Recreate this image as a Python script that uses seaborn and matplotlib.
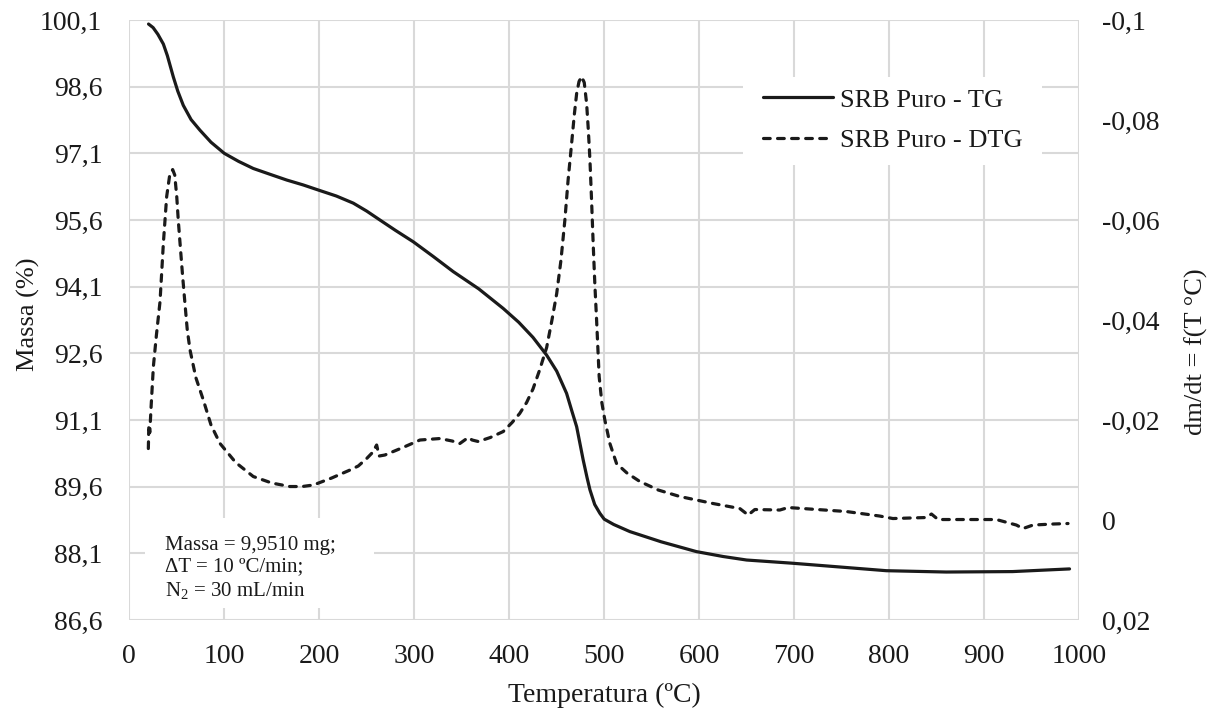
import numpy as np
import pandas as pd
import matplotlib
matplotlib.use("Agg")
import matplotlib.pyplot as plt
import seaborn as sns
from matplotlib.ticker import FixedLocator, FixedFormatter
from matplotlib.lines import Line2D
from matplotlib.patches import Rectangle

# ---- data ----
tg_temp = [20.2, 25, 30, 35.8, 40, 46.3, 51, 56.8, 65, 74.4, 86, 100, 115, 130.5, 148, 165.7,
           183, 199.7, 218, 235.8, 250, 263.9, 280, 299, 320, 341, 368, 393.7, 410, 425, 439.4,
           450, 460.4, 466, 471, 477.9, 482, 485, 490, 495.5, 500, 510, 527, 560, 597, 625,
           650, 697, 750, 797, 860, 930, 990]
tg_mass = [100.01, 99.93, 99.78, 99.56, 99.30, 98.82, 98.50, 98.18, 97.86, 97.62, 97.35, 97.10,
           96.92, 96.76, 96.63, 96.50, 96.39, 96.27, 96.14, 95.98, 95.80, 95.60, 95.37, 95.11,
           94.78, 94.44, 94.05, 93.61, 93.30, 92.96, 92.56, 92.20, 91.70, 91.30, 90.95, 90.20,
           89.80, 89.53, 89.20, 89.00, 88.87, 88.75, 88.59, 88.36, 88.14, 88.03, 87.95, 87.88,
           87.79, 87.71, 87.68, 87.69, 87.75]

dtg_temp = [20, 20.5, 21.5, 23, 25.3, 28.5, 32.3, 35.8, 39.3, 42.5, 45.6, 47.8, 49.9, 51.5, 53.4,
            56, 58.6, 61, 63.9, 70, 77.9, 86, 95.5, 112, 130.5, 150, 169, 182, 193.7, 213, 232.3,
            241, 249.9, 256, 260.4, 263, 269, 288, 306, 327, 340, 348, 356.8, 361, 367.4, 380,
            393.7, 403, 411, 418.3, 425, 432, 439.4, 445, 450, 454.5, 458.6, 462, 465.7, 468.5,
            471, 473.5, 476.2, 479, 481.5, 483.3, 485, 486.7, 488.4, 490.2, 492, 494.7, 497.5,
            500.7, 506, 513, 524, 537.6, 557, 579.7, 614.7, 642.8, 651.6, 658.6, 685, 693.7,
            755, 790, 804, 839, 844.6, 851.6, 913, 934, 941, 951.6, 972.6, 988.4]
dtg_vals = [-0.0143, -0.0190, -0.0175, -0.0230, -0.0307, -0.0370, -0.0437, -0.0553, -0.0647,
            -0.0690, -0.0701, -0.0690, -0.0647, -0.0600, -0.0553, -0.0490, -0.0432, -0.0380,
            -0.0340, -0.0285, -0.0240, -0.0190, -0.0153, -0.0115, -0.0087, -0.0074, -0.0067,
            -0.0067, -0.0070, -0.0084, -0.0100, -0.0108, -0.0123, -0.0135, -0.0150, -0.0128,
            -0.0130, -0.0145, -0.0160, -0.0163, -0.0158, -0.0153, -0.0165, -0.0160, -0.0157,
            -0.0165, -0.0177, -0.0195, -0.0213, -0.0235, -0.0262, -0.0300, -0.0345, -0.0400,
            -0.0453, -0.0520, -0.0600, -0.0680, -0.0753, -0.0810, -0.0853, -0.0877, -0.0887,
            -0.0875, -0.0833, -0.0780, -0.0720, -0.0640, -0.0553, -0.0470, -0.0400, -0.0287,
            -0.0235, -0.0200, -0.0153, -0.0113, -0.0094, -0.0077, -0.0060, -0.0047, -0.0033,
            -0.0023, -0.0010, -0.0021, -0.0020, -0.0025, -0.0017, -0.0008, -0.0003, -0.0005,
            -0.0012, -0.0001, -0.0001, 0.0010, 0.0017, 0.0010, 0.0008, 0.0007]

left_ticks = [86.6, 88.1, 89.6, 91.1, 92.6, 94.1, 95.6, 97.1, 98.6, 100.1]
left_labels = ["86,6", "88,1", "89,6", "91,1", "92,6", "94,1", "95,6", "97,1", "98,6", "100,1"]
right_ticks = [0.02, 0.0, -0.02, -0.04, -0.06, -0.08, -0.1]
right_labels = ["0,02", "0", "-0,02", "-0,04", "-0,06", "-0,08", "-0,1"]
x_ticks = [0, 100, 200, 300, 400, 500, 600, 700, 800, 900, 1000]

tg_df = pd.DataFrame({"T": tg_temp, "m": tg_mass})
dtg_df = pd.DataFrame({"T": dtg_temp, "d": dtg_vals})

sns.set_style("white")
plt.rcParams["font.family"] = ["Liberation Serif", "DejaVu Serif"]
plt.rcParams["mathtext.fontset"] = "custom"
plt.rcParams["mathtext.rm"] = "Liberation Serif"
plt.rcParams["mathtext.default"] = "regular"

W, H = 1218, 713
fig = plt.figure(figsize=(W / 100, H / 100), dpi=100)
ax = fig.add_axes([0.1062, 0.1304, 0.7797, 0.8415])
ax2 = ax.twinx()

ink = "#1a1a1a"
grid_c = "#d9d9d9"
lw = 2.3
dash = (2.1, 2.3)
sns.lineplot(data=tg_df, x="T", y="m", ax=ax, color=ink, linewidth=lw,
             estimator=None, sort=False, legend=False)
sns.lineplot(data=dtg_df, x="T", y="d", ax=ax2, color=ink, linewidth=lw,
             estimator=None, sort=False, legend=False)
dl = ax2.lines[0]
dl.set_dashes(dash)
dl.set_dash_capstyle("round")
for ln in ax.lines + ax2.lines:
    ln.set_solid_joinstyle("round")
    ln.set_solid_capstyle("round")

ax.set_xlim(0, 1000)
ax.set_ylim(86.6, 100.1)
ax2.set_ylim(0.02, -0.1)

ax.xaxis.set_major_locator(FixedLocator(x_ticks))
ax.yaxis.set_major_locator(FixedLocator(left_ticks))
ax.yaxis.set_major_formatter(FixedFormatter(left_labels))
ax2.yaxis.set_major_locator(FixedLocator(right_ticks))
ax2.yaxis.set_major_formatter(FixedFormatter(right_labels))

ax.grid(True, color=grid_c, linewidth=1.5)
ax.set_axisbelow(True)
for a in (ax, ax2):
    for s in a.spines.values():
        s.set_visible(False)
    a.tick_params(length=0, labelsize=20, colors=ink)
ax.tick_params(axis="x", pad=17)
ax.tick_params(axis="y", pad=19.5)
ax2.tick_params(axis="y", pad=16.5)

ax.set_xlabel("Temperatura (ºC)", fontsize=20, color=ink)
ax.xaxis.set_label_coords(0.5, -0.105)
ax.set_ylabel("Massa (%)", fontsize=19, color=ink)
ax.yaxis.set_label_coords(-0.094, 0.51)
ax2.set_ylabel("dm/dt = f(T °C)", fontsize=19, color=ink, rotation=90)
ax2.yaxis.set_label_coords(1.111, 0.447)

def fx(px):
    return (px - 129.3) / 949.7

def fy(py):
    return 1 - (py - 20) / 600

# legend background
ax2.add_patch(Rectangle((fx(743), fy(165)), fx(1042) - fx(743), fy(77) - fy(165),
                        transform=ax2.transAxes, facecolor="white", edgecolor="none", zorder=3))
h_tg = Line2D([], [], color=ink, linewidth=lw, solid_capstyle="round")
h_dtg = Line2D([], [], color=ink, linewidth=lw, dashes=dash, dash_capstyle="round")
leg = ax2.legend([h_tg, h_dtg], ["SRB Puro - TG", "SRB Puro - DTG"], loc="upper left",
                 bbox_to_anchor=(fx(763), fy(88)), fontsize=19, frameon=False,
                 borderpad=0, borderaxespad=0, handlelength=2.65, handletextpad=0.27,
                 labelspacing=0.66)
leg.set_zorder(4)
for t in leg.get_texts():
    t.set_color(ink)

# annotation box
ax2.add_patch(Rectangle((fx(145), fy(608)), fx(374) - fx(145), fy(518) - fy(608),
                        transform=ax2.transAxes, facecolor="white", edgecolor="none", zorder=3))
ax2.text(fx(165), fy(568), "Massa = 9,9510 mg;\nΔT = 10 ºC/min;\nN$_2$ = 30 mL/min",
         transform=ax2.transAxes, fontsize=15, color=ink, va="center", ha="left",
         linespacing=1.2, zorder=4)

fig.savefig("out.png", dpi=100)
